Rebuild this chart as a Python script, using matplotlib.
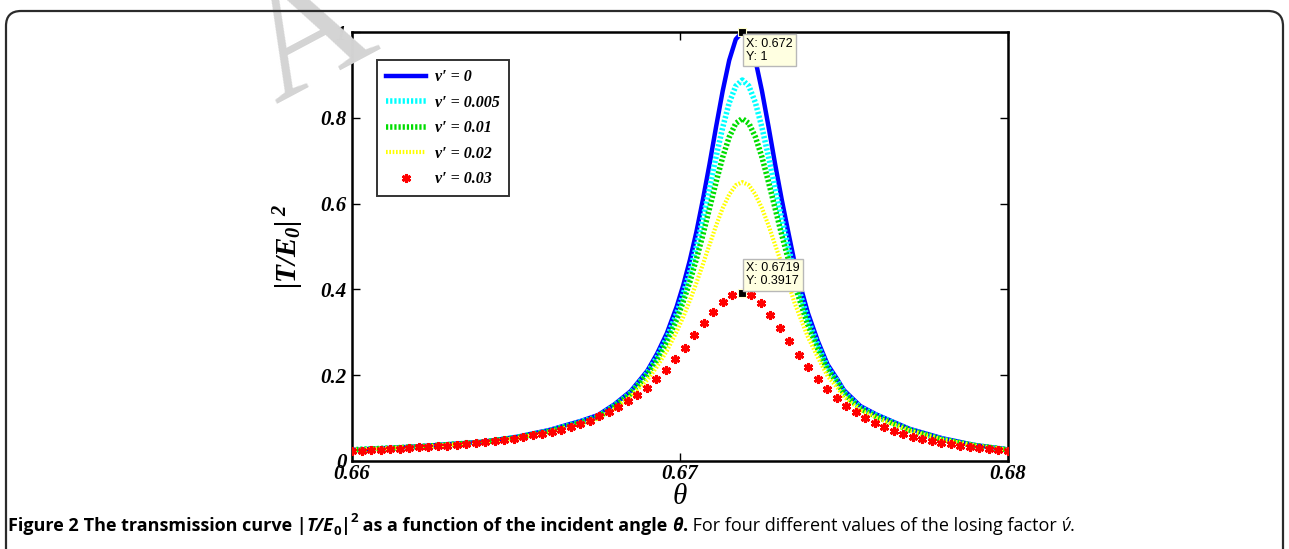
import matplotlib
matplotlib.use('Agg')
import matplotlib.pyplot as plt
import numpy as np
from matplotlib.patches import FancyBboxPatch

plt.rcParams['mathtext.fontset'] = 'custom'
plt.rcParams['mathtext.it'] = 'Liberation Serif:bold:italic'
plt.rcParams['mathtext.rm'] = 'Liberation Serif:bold:italic'
plt.rcParams['mathtext.bf'] = 'Liberation Serif:bold:italic'

# ---- data ----
theta = [0.660, 0.662, 0.664, 0.665, 0.666, 0.667, 0.6675, 0.668, 0.6685, 0.669,
         0.6693, 0.6696, 0.6699, 0.6701, 0.6703, 0.6705, 0.6707, 0.6709, 0.6711, 0.6713,
         0.6715, 0.6717, 0.6719, 0.6721, 0.6723, 0.6725, 0.6727, 0.6729, 0.6731, 0.6733,
         0.6735, 0.6737, 0.6739, 0.6742, 0.6745, 0.6748, 0.675, 0.6755, 0.676, 0.677,
         0.678, 0.679, 0.680]

t_v0 = [0.026, 0.034, 0.045, 0.056, 0.072, 0.094, 0.107, 0.132, 0.163, 0.210,
        0.250, 0.298, 0.360, 0.410, 0.468, 0.534, 0.610, 0.692, 0.779, 0.862,
        0.934, 0.983, 1.000, 0.983, 0.934, 0.862, 0.779, 0.692, 0.610, 0.534,
        0.460, 0.400, 0.345, 0.280, 0.225, 0.190, 0.165, 0.128, 0.108, 0.075,
        0.053, 0.037, 0.027]
t_v005 = [0.026, 0.033, 0.044, 0.055, 0.070, 0.092, 0.104, 0.129, 0.159, 0.205,
          0.242, 0.287, 0.344, 0.389, 0.441, 0.500, 0.566, 0.636, 0.709, 0.777,
          0.835, 0.874, 0.888, 0.874, 0.835, 0.777, 0.709, 0.636, 0.566, 0.500,
          0.432, 0.380, 0.330, 0.270, 0.218, 0.186, 0.160, 0.125, 0.106, 0.073,
          0.051, 0.036, 0.026]
t_v01 = [0.026, 0.033, 0.044, 0.054, 0.069, 0.090, 0.102, 0.127, 0.157, 0.201,
         0.235, 0.278, 0.330, 0.372, 0.418, 0.471, 0.528, 0.589, 0.650, 0.708,
         0.755, 0.787, 0.798, 0.787, 0.755, 0.708, 0.650, 0.589, 0.528, 0.471,
         0.410, 0.363, 0.316, 0.261, 0.212, 0.182, 0.157, 0.122, 0.103, 0.072,
         0.050, 0.036, 0.026]
t_v02 = [0.026, 0.033, 0.043, 0.053, 0.067, 0.087, 0.099, 0.122, 0.151, 0.189,
         0.220, 0.257, 0.302, 0.336, 0.374, 0.415, 0.459, 0.504, 0.549, 0.589,
         0.621, 0.643, 0.650, 0.643, 0.621, 0.589, 0.549, 0.504, 0.459, 0.415,
         0.367, 0.328, 0.289, 0.242, 0.198, 0.171, 0.150, 0.119, 0.101, 0.071,
         0.050, 0.036, 0.026]

theta_red = np.linspace(0.66, 0.68, 70)
t_v03 = [0.024, 0.024, 0.026, 0.026, 0.028, 0.029, 0.030, 0.032, 0.033, 0.034,
         0.036, 0.038, 0.040, 0.042, 0.044, 0.047, 0.049, 0.052, 0.057, 0.060,
         0.064, 0.068, 0.073, 0.079, 0.086, 0.094, 0.104, 0.114, 0.125, 0.139,
         0.154, 0.170, 0.190, 0.213, 0.238, 0.264, 0.293, 0.322, 0.348, 0.371,
         0.388, 0.3917, 0.386, 0.368, 0.341, 0.310, 0.280, 0.246, 0.218, 0.190,
         0.168, 0.147, 0.129, 0.114, 0.100, 0.089, 0.079, 0.070, 0.064, 0.057,
         0.051, 0.047, 0.043, 0.040, 0.036, 0.033, 0.030, 0.028, 0.026, 0.024]

labels = ["ν′ = 0", "ν′ = 0.005", "ν′ = 0.01", "ν′ = 0.02", "ν′ = 0.03"]
xticks = [0.66, 0.67, 0.68]
yticks = [0, 0.2, 0.4, 0.6, 0.8, 1]
tips = [(0.6719, 1.0, "X: 0.672\nY: 1"), (0.6719, 0.3917, "X: 0.6719\nY: 0.3917")]

W, H = 1289, 549
fig = plt.figure(figsize=(W / 100, H / 100), dpi=100)

# outer rounded frame of the figure panel
frame = FancyBboxPatch((0.06, -0.3), 12.77, 5.68, boxstyle='round,pad=0,rounding_size=0.15',
                       transform=fig.dpi_scale_trans, fill=False, ec='#2b2b2b', lw=1.6)
fig.add_artist(frame)

# watermark fragment (cut by the top edge, as in the scan)
fig.text(310 / W, 1 - 40 / H, 'A', fontsize=120, color='#d4d4d4', family='Liberation Serif',
         rotation=28, ha='center', va='center', zorder=0)

ax = fig.add_axes([352 / W, 88 / H, 656 / W, 429 / H])
ax.patch.set_alpha(0)

serif_bi = dict(family=['Liberation Serif', 'DejaVu Serif'], weight='bold', style='italic')

ax.plot(theta, t_v0, color='#0000ff', lw=3.2, label=labels[0], zorder=3)
ax.plot(theta, t_v005, color='#00ffff', lw=4, ls=(0, (0.4, 0.35)), label=labels[1], zorder=4)
ax.plot(theta, t_v01, color='#00dd00', lw=4, ls=(0, (0.4, 0.35)), label=labels[2], zorder=5)
ax.plot(theta, t_v02, color='#ffff00', lw=3, ls=(0, (0.4, 0.4)), label=labels[3], zorder=6)
ax.plot(theta_red, t_v03, ls='none', marker=(6, 2, 0), ms=6.5, mew=2.0, color='#ff0000',
        label=labels[4], zorder=7)

# data tips
for tx, ty, s in tips:
    ax.plot([tx], [ty], 's', color='black', ms=5.5, mec='#ffffcc', mew=0.8, zorder=9, clip_on=False)
for (tx, ty, s), off in zip(tips, [(3, -4), (3, 4)]):
    ax.annotate(s, (tx, ty), xytext=off, textcoords='offset points',
                ha='left', va='top' if off[1] < 0 else 'bottom', fontsize=9,
                family='Liberation Sans', linespacing=1.15,
                bbox=dict(boxstyle='square,pad=0.25', fc='#ffffe1', ec='#b8b8b8', lw=1), zorder=10)

ax.set_xlim(0.66, 0.68)
ax.set_ylim(0, 1)
ax.set_xticks(xticks)
ax.set_xticklabels(['0.66', '0.67', '0.68'], fontsize=15, **serif_bi)
ax.set_yticks(yticks)
ax.set_yticklabels(['0', '0.2', '0.4', '0.6', '0.8', '1'], fontsize=15, **serif_bi)
ax.tick_params(direction='in', length=6, width=1, top=True, right=True, pad=4)
ax.tick_params(axis='x', pad=2)
for sp in ax.spines.values():
    sp.set_linewidth(1.8)

ax.set_xlabel('θ', fontsize=21, labelpad=0, family='Liberation Serif', style='italic')
ax.set_ylabel(r'$|T/E_0|^{\;2}$', fontsize=21, labelpad=10)

leg = ax.legend(loc='upper left', bbox_to_anchor=(0.038, 0.934), borderaxespad=0,
                prop=dict(family=['Liberation Serif', 'DejaVu Serif'], weight='bold',
                          style='italic', size=11.5),
                frameon=True, fancybox=False, edgecolor='black', handlelength=2.5,
                labelspacing=0.6, borderpad=0.55, handletextpad=0.6)
leg.get_frame().set_linewidth(1.4)

# caption, built from pieces
renderer = fig.canvas.get_renderer()
cap_y = 1 - 531 / H
pieces = [
    ("Figure 2", dict(weight='bold'), 0),
    (" The transmission curve |", dict(weight='bold'), 0),
    ("T/E", dict(weight='bold', style='italic'), 0),
    ("0", dict(weight='bold', size=9.5), -4),
    ("|", dict(weight='bold'), 0),
    ("2", dict(weight='bold', size=9.5), 9),
    (" as a function of the incident angle ", dict(weight='bold'), 0),
    ("θ", dict(weight='bold', style='italic'), 0),
    (".", dict(weight='bold'), 0),
    (" For four different values of the losing factor ", dict(), 0),
    ("ν́", dict(style='italic'), 0),
    (".", dict(), 0),
]
x = 8 / W
for s, kw, dy in pieces:
    kw = dict(kw)
    size = kw.pop('size', 13)
    t = fig.text(x, cap_y + dy / H, s, fontsize=size, family=['Open Sans', 'DejaVu Sans'],
                 va='baseline', ha='left', **kw)
    x += t.get_window_extent(renderer).width / W

fig.savefig('out.png', dpi=100)
